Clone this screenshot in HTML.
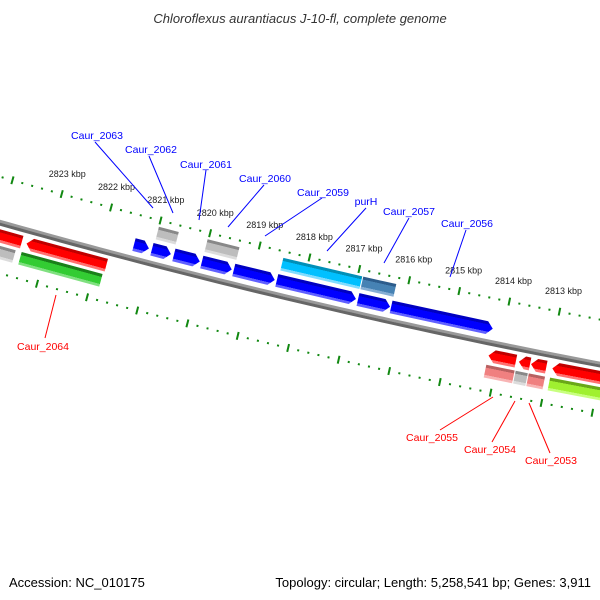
<!DOCTYPE html>
<html><head><meta charset="utf-8"><style>
html,body{margin:0;padding:0;background:#fff}
svg{display:block}
text{font-family:"Liberation Sans",sans-serif}
</style></head><body>
<svg id="map" width="600" height="600" viewBox="0 0 600 600" xmlns="http://www.w3.org/2000/svg">
<defs id="defs"></defs>
<text x="300" y="23" text-anchor="middle" font-size="13" font-style="italic" fill="#333">Chloroflexus aurantiacus J-10-fl, complete genome</text>
<g id="ticks"></g>
<g id="backbone"></g>
<g id="features"></g>
<g id="labels"></g>
<text x="9" y="587" font-size="13" fill="#000">Accession: NC_010175</text>
<text x="591" y="587" font-size="13" fill="#000" text-anchor="end">Topology: circular; Length: 5,258,541 bp; Genes: 3,911</text>
</svg>
<script>
// feature data (kbp)
const featStart = [2821.383,2821.022,2820.581,2820.020,2819.379,2818.517,2816.894,2816.233, 2821.000,2820.018,2818.495,2816.892, 2824.80,2823.403,2814.184,2813.583,2813.343,2812.922, 2824.70,2823.449,2814.19,2813.61,2813.35,2812.93];
const featEnd   = [2821.082,2820.641,2820.060,2819.419,2818.557,2816.934,2816.253,2814.209, 2820.599,2819.377,2816.912,2816.231, 2823.50,2821.800,2813.643,2813.363,2813.042,2811.000, 2823.57,2821.826,2813.63,2813.37,2813.03,2811.000];
const featRow   = [1,1,1,1,1,1,1,1, 2,2,2,2, -1,-1,-1,-1,-1,-1, -2,-2,-2,-2,-2,-2];
const featColor = ['blue','blue','blue','blue','blue','blue','blue','blue','gray','gray','cyan','steel','red','red','red','red','red','red','gray','green','pink','gray','pink','lime'];
const tickMajor = [2811,2812,2813,2814,2815,2816,2817,2818,2819,2820,2821,2822,2823,2824,2825];
const tickLabels = ['2813 kbp','2814 kbp','2815 kbp','2816 kbp','2817 kbp','2818 kbp','2819 kbp','2820 kbp','2821 kbp','2822 kbp','2823 kbp'];
const tickLabelKbp = [2813,2814,2815,2816,2817,2818,2819,2820,2821,2822,2823];
const labelText = ['Caur_2063','Caur_2062','Caur_2061','Caur_2060','Caur_2059','purH','Caur_2057','Caur_2056','Caur_2064','Caur_2055','Caur_2054','Caur_2053'];

const NS='http://www.w3.org/2000/svg';
const CX=1910, CY=-6515, R0=7003;
function ang(k){return (104.56+(k-2821)*0.4212)*Math.PI/180;}
function pt(k,v){const r=R0-v,a=ang(k);return [CX+r*Math.cos(a),CY+r*Math.sin(a)];}
function mk(tag,attrs,parent){const e=document.createElementNS(NS,tag);for(const a in attrs)e.setAttribute(a,attrs[a]);parent.appendChild(e);return e;}
function arc(k1,k2,v){let d='';const n=60;for(let i=0;i<=n;i++){const p=pt(k1+(k2-k1)*i/n,v);d+=(i?'L':'M')+p[0].toFixed(2)+','+p[1].toFixed(2);}return d;}

const pal={blue:['#0000c0','#0000ff','#6060ff'],red:['#c00000','#ff0000','#ff7070'],gray:['#888','#bdbdbd','#dcdcdc'],
cyan:['#0090b8','#00c0ff','#80dcff'],steel:['#2c5c8c','#4682b4','#86aed4'],pink:['#b86060','#f08080','#f8b4b4'],
lime:['#6aa818','#a0f030','#c8ff80'],green:['#1a801a','#33cc33','#80e080']};

// backbone
const bb=document.getElementById('backbone');
const b1=mk('path',{d:arc(2826,2810,1.2),fill:'none',stroke:'#999','stroke-width':3},bb);

const b2=mk('path',{d:arc(2826,2810,-1.6),fill:'none',stroke:'#666','stroke-width':3},bb);


// ticks
const tg=document.getElementById('ticks');
for(let i=0;i<tickMajor.length;i++){
  const k=tickMajor[i];
  [44,-49].forEach(v=>{
    const a=pt(k,v-4),b=pt(k,v+4);
    const t=mk('line',{x1:a[0],y1:a[1],x2:b[0],y2:b[1],stroke:'#118811','stroke-width':2},tg);
    
    for(let j=1;j<5;j++){
      const km=k+j*0.2, c=pt(km,v-1),d=pt(km,v+1);
      const m=mk('line',{x1:c[0],y1:c[1],x2:d[0],y2:d[1],stroke:'#118811','stroke-width':2},tg);
      
    }
  });
}
for(let i=0;i<tickLabels.length;i++){
  const p=pt(tickLabelKbp[i],65);
  const t=mk('text',{x:p[0],y:p[1]+3,'text-anchor':'middle','font-size':'9',fill:'#222'},tg);
  
  t.textContent=tickLabels[i];
}

// features
const fg=document.getElementById('features'), defs=document.getElementById('defs');
const rows={1:[7.5,20.5],2:[24.5,37.5],'-1':[-19.5,-6.5],'-2':[-35.5,-22.5]};
const HEAD=0.117;
for(let i=0;i<featStart.length;i++){
  const k1=featStart[i],k2=featEnd[i],row=featRow[i],col=pal[featColor[i]];
  const [vi,vo]=rows[row];const vm=(vi+vo)/2;
  let pts;
  if(row===1){ // arrow pointing to low-k (right)
    pts=[pt(k1,vo),pt(k2+HEAD,vo),pt(k2,vm),pt(k2+HEAD,vi),pt(k1,vi)];
  }else if(row===-1){ // arrow pointing to high-k (left)
    pts=[pt(k1-HEAD,vo),pt(k2,vo),pt(k2,vi),pt(k1-HEAD,vi),pt(k1,vm)];
  }else{
    pts=[pt(k1,vo),pt(k2,vo),pt(k2,vi),pt(k1,vi)];
  }
  const km=(k1+k2)/2,go=pt(km,vo),gi=pt(km,vi);
  const g=mk('linearGradient',{id:'g'+i,gradientUnits:'userSpaceOnUse',x1:go[0],y1:go[1],x2:gi[0],y2:gi[1]},defs);
  [[0,col[0]],[0.22,col[0]],[0.23,col[1]],[0.78,col[1]],[0.79,col[2]],[1,col[2]]].forEach(s=>mk('stop',{offset:s[0],'stop-color':s[1]},g));
  const p=mk('polygon',{points:pts.map(q=>q[0].toFixed(2)+','+q[1].toFixed(2)).join(' '),fill:'url(#g'+i+')'},fg);
  
}

// labels
const lg=document.getElementById('labels');
const lab=[[97,139,95,142,153,208,'#00f'],[151,153,149,156,173,213,'#00f'],[206,168,206,170,199,220,'#00f'],[265,182,264,185,228,227,'#00f'],
[323,196,322,198,265,236,'#00f'],[366,205,366,208,327,251,'#00f'],[409,215,409,218,384,263,'#00f'],[467,227,466,230,450,277,'#00f'],
[43,350,56,295,45,338,'#f00'],[432,441,493,397,440,430,'#f00'],[490,453,515,401,492,442,'#f00'],[551,464,529,403,550,453,'#f00']];
for(let i=0;i<labelText.length;i++){
  const L=lab[i];
  const ln=mk('line',{x1:L[2],y1:L[3],x2:L[4],y2:L[5],stroke:L[6],'stroke-width':1},lg);
  
  const t=mk('text',{x:L[0],y:L[1],'text-anchor':'middle','font-size':'10.5',fill:L[6]},lg);
  
  t.textContent=labelText[i];
}
</script>
</body></html>
